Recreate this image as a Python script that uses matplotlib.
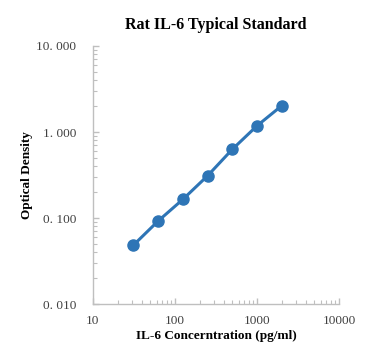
import matplotlib
matplotlib.use("Agg")
import matplotlib.pyplot as plt
from matplotlib.ticker import FixedLocator, LogLocator, NullFormatter

# standard curve values
conc = [31.25, 62.5, 125, 250, 500, 1000, 2000]
od = [0.0485, 0.0925, 0.165, 0.310, 0.629, 1.18, 2.02]

xticks = [10, 100, 1000, 10000]
xtick_labels = ["10", "100", "1000", "10000"]
yticks = [0.01, 0.1, 1, 10]
ytick_labels = ["0. 010", "0. 100", "1. 000", "10. 000"]

plt.rcParams['font.family'] = ['Liberation Serif', 'DejaVu Serif']

fig = plt.figure(figsize=(3.73, 3.62), dpi=100)
ax = fig.add_axes([0.249, 0.160, 0.660, 0.713])

ax.plot(conc, od, color='#2E75B6', linewidth=2.2, marker='o',
        markersize=8, markerfacecolor='#2E75B6', markeredgecolor='#2E75B6')

ax.set_xscale('log')
ax.set_yscale('log')
ax.set_xlim(10, 10000)
ax.set_ylim(0.01, 10)

ax.xaxis.set_major_locator(FixedLocator(xticks))
ax.set_xticklabels(xtick_labels)
ax.yaxis.set_major_locator(FixedLocator(yticks))
ax.set_yticklabels(ytick_labels)
ax.xaxis.set_minor_locator(LogLocator(base=10, subs=range(2, 10)))
ax.yaxis.set_minor_locator(LogLocator(base=10, subs=range(2, 10)))
ax.xaxis.set_minor_formatter(NullFormatter())
ax.yaxis.set_minor_formatter(NullFormatter())

for side in ['top', 'right']:
    ax.spines[side].set_visible(False)
for side in ['left', 'bottom']:
    ax.spines[side].set_color('#BFBFBF')
    ax.spines[side].set_linewidth(1.0)

ax.tick_params(which='both', direction='in', color='#BFBFBF', labelcolor='#404040',
               labelsize=9.5)
ax.tick_params(which='major', length=4, width=1.0)
ax.tick_params(which='minor', length=3, width=0.8)
ax.tick_params(axis='y', pad=12)
ax.tick_params(axis='x', pad=8)

ax.set_title('Rat IL-6 Typical Standard', fontsize=11.5, fontweight='bold', pad=12)
ax.set_xlabel('IL-6 Concerntration (pg/ml)', fontsize=9.5, fontweight='bold', labelpad=2)
ax.set_ylabel('Optical Density', fontsize=9.5, fontweight='bold', labelpad=2)

fig.savefig('out.png', dpi=100)
